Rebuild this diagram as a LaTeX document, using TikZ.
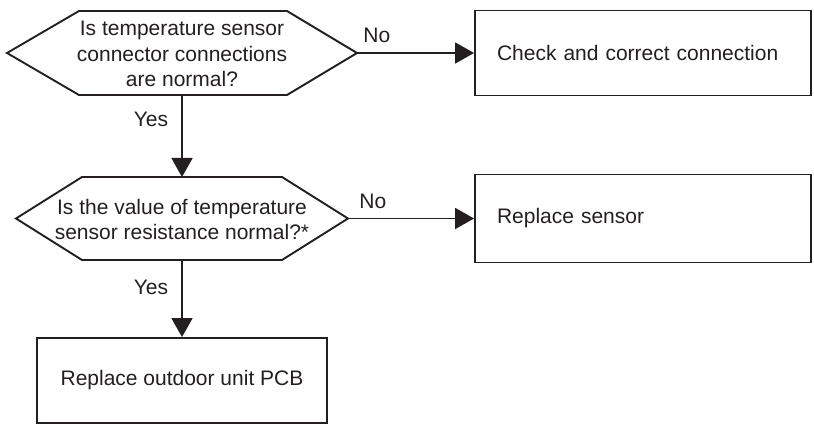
\documentclass[tikz,border=0pt]{standalone}
\usepackage{fontspec}
\setmainfont{Liberation Sans}
\usetikzlibrary{arrows.meta}
\definecolor{ink}{HTML}{231F20}
\begin{document}
\begin{tikzpicture}[x=1pt,y=-1pt,
  txt/.style={font=\fontsize{21}{25.5}\selectfont, text=ink},
  hexline/.style={draw=ink, line width=1.9pt, line join=miter},
  qtext/.style={txt, align=center, inner sep=0pt},
  actbox/.style={txt, draw=ink, line width=1.9pt, minimum height=85pt,
    minimum width=336pt, text width=292pt, align=left, inner xsep=22pt},
  endbox/.style={txt, draw=ink, line width=1.9pt, minimum height=85pt,
    minimum width=290pt, align=center},
  flow/.style={draw=ink, line width=1.9pt, -{Triangle[length=19pt,width=21pt]}},
  lbl/.style={txt, inner sep=0pt}]
\useasboundingbox (0,0) rectangle (814,425);

% decision 1
\coordinate (h1l) at (7,53);
\coordinate (h1r) at (357,53);
\coordinate (h1b) at (182,95);
\draw[hexline] (h1l) -- (79,11) -- (287,11) -- (h1r) -- (287,95) -- (79,95) -- cycle;
\node[qtext] (q1) at (182,54) {Is temperature sensor\\connector connections\\are normal?};

% decision 2
\coordinate (h2l) at (16,218.5);
\coordinate (h2r) at (348,218.5);
\coordinate (h2t) at (182,177);
\coordinate (h2b) at (182,260);
\draw[hexline] (h2l) -- (82,177) -- (282,177) -- (h2r) -- (282,260) -- (82,260) -- cycle;
\node[qtext] (q2) at (182,219.5) {Is the value of temperature\\sensor resistance normal?*};

% action boxes
\node[actbox] (b1) at (643,53) {Check and correct connection};
\node[actbox, minimum height=88pt] (b2) at (643,218.5) {Replace sensor};
\node[endbox] (b3) at (182,380.5) {Replace outdoor unit PCB};

% connectors
\draw[flow] (h1r) -- node[lbl, pos=0.17, anchor=base, yshift=10.5pt] (n1) {No} (b1.west);
\draw[flow] (h1b) -- node[lbl, pos=0.3, anchor=east, xshift=-13pt] (y1) {Yes} (h2t);
\draw[flow] (h2r) -- node[lbl, pos=0.197, anchor=base, yshift=10.5pt] (n2) {No} (b2.west);
\draw[flow] (h2b) -- node[lbl, pos=0.36, anchor=east, xshift=-13pt] (y2) {Yes} (b3.north);
\end{tikzpicture}
\end{document}
